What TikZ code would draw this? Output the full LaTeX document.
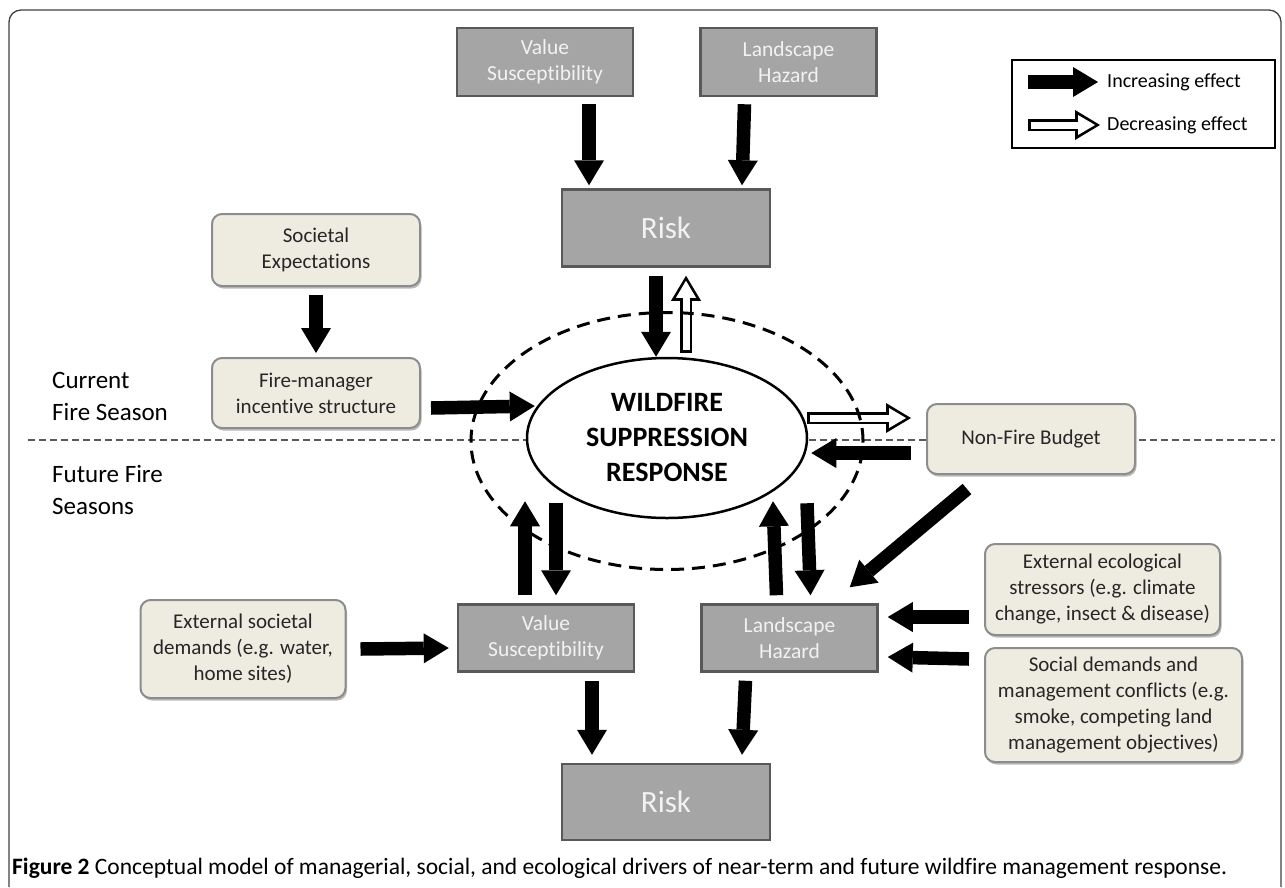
\documentclass[tikz,border=0pt]{standalone}
\usepackage{fontspec}
\setmainfont{Carlito}[Ligatures=NoCommon]
\usetikzlibrary{positioning}
\usetikzlibrary{arrows.meta}
\usetikzlibrary{shapes.geometric}
\usetikzlibrary{shadows}

\definecolor{boxgray}{HTML}{A5A5A5}
\definecolor{boxedge}{HTML}{595959}
\definecolor{tanfill}{HTML}{EEECE1}
\definecolor{tanedge}{HTML}{8C8C8C}
\definecolor{boxtext}{HTML}{262626}

\begin{document}
\begin{tikzpicture}[x=1pt, y=-1pt,
  factor/.style={rectangle, draw=boxedge, line width=2.5pt, fill=boxgray, text=white!95!black, align=center, inner sep=2pt, font=\fontsize{21.5}{26}\selectfont},
  risk/.style={factor, minimum width=208pt, minimum height=77pt, font=\fontsize{31}{36}\selectfont},
  driver/.style={rectangle, rounded corners=10pt, draw=tanedge, line width=2pt, fill=tanfill, text=boxtext, align=center, inner sep=2pt, font=\fontsize{21}{26}\selectfont, drop shadow={shadow xshift=1.5pt, shadow yshift=-2.5pt, fill=black!45, opacity=0.6}},
  response/.style={ellipse, draw, line width=2.5pt, fill=white, minimum width=280pt, minimum height=160pt, inner sep=0pt, align=center, font=\fontsize{28}{35}\selectfont\bfseries},
  zone/.style={ellipse, draw, dashed, dash pattern=on 13pt off 8pt, line width=3pt, minimum width=392pt, minimum height=257pt, inner sep=0pt},
  season/.style={anchor=west, align=left, inner sep=0pt, font=\fontsize{25}{32}\selectfont},
  legendtext/.style={anchor=west, inner sep=0pt, font=\fontsize{20}{24}\selectfont},
  incr/.style={line width=13.5pt, -{Triangle[length=25pt, width=30pt, line width=0pt]}},
  decr/.style={line width=12pt, -{Triangle[length=25pt, width=30pt, line width=0pt]},
    postaction={draw=white, line width=7pt, shorten <=2.5pt, shorten >=5pt, -{Triangle[length=17pt, width=20pt, line width=0pt]}}},
  divider/.style={draw=black!65, line width=1.6pt, dash pattern=on 7pt off 4pt}
]
\useasboundingbox (0,0) rectangle (1285,887);

% Frame and season divider
\draw[black!75, line width=1.3pt, rounded corners=12pt] (9,887) -- (9,10) -- (1281,10) -- (1281,887);
\draw[divider] (28,440) -- (1275,440);

% Top row
\node[factor, minimum width=176pt, minimum height=68pt] (topvs) at (545,62) {Value\\Susceptibility};
\node[factor, minimum width=176pt, minimum height=68pt, right=65pt of topvs] (toplh) {Landscape\\Hazard};
\node[risk] (toprisk) at (666,228) {Risk};

% Legend
\node[draw, line width=2pt, minimum width=263pt, minimum height=88pt] (legend) at (1143.5,104) {};
\node[legendtext] (incrtext) at (1107,82) {Increasing effect};
\node[legendtext] (decrtext) at (1107,125) {Decreasing effect};

% Centre
\node[response] (resp) at (667,438) {WILDFIRE\\SUPPRESSION\\RESPONSE};

% Left side
\node[driver, minimum width=208pt, minimum height=72pt] (societal) at (316,250) {Societal\\Expectations};
\node[driver, minimum width=208pt, minimum height=70pt, below=70pt of societal] (fireman) {Fire-manager\\incentive structure};
\node[season] (current) at (52,396) {Current\\Fire Season};
\node[season] (future) at (52,490) {Future Fire\\Seasons};
\node[driver, minimum width=205pt, minimum height=98pt] (extsoc) at (243,649) {External societal\\demands (e.g. water,\\home sites)};

% Right side
\node[driver, minimum width=208pt, minimum height=70pt] (nonfire) at (1031,439) {Non-Fire Budget};
\node[driver, minimum width=235pt, minimum height=91pt] (ecostress) at (1102.5,589.5) {External ecological\\stressors (e.g. climate\\change, insect \& disease)};
\node[driver, minimum width=257pt, minimum height=114pt, below=11pt of ecostress.south west, anchor=north west] (socdemand) {Social demands and\\management conflicts (e.g.\\smoke, competing land\\management objectives)};

% Bottom row
\node[factor, minimum width=176pt, minimum height=67pt] (botvs) at (546,638) {Value\\Susceptibility};
\node[factor, minimum width=176pt, minimum height=67pt, right=65pt of botvs] (botlh) {Landscape\\Hazard};
\node[risk, minimum height=76pt] (botrisk) at (666,802) {Risk};

% Caption
\node[anchor=west, inner sep=0pt, font=\fontsize{23.5}{26}\selectfont] (caption) at (12,868) {\textbf{Figure 2} Conceptual model of managerial, social, and ecological drivers of near-term and future wildfire management response.};

% Effects
\draw[incr] ([xshift=-79pt]incrtext.west) -- ([xshift=-9pt]incrtext.west);
\draw[decr] ([xshift=-79pt]decrtext.west) -- ([xshift=-7pt]decrtext.west);

\draw[incr] ([xshift=44pt,yshift=-7pt]topvs.south) -- ([xshift=-77pt,yshift=3pt]toprisk.north);
\draw[incr] ([xshift=-44pt,yshift=-7pt]toplh.south) -- ([xshift=76pt,yshift=3pt]toprisk.north);
\draw[incr] ([xshift=-10pt,yshift=-8pt]toprisk.south) -- ([xshift=-11pt]resp.north);
\draw[decr] ([xshift=19pt,yshift=4pt]resp.north) -- ([xshift=20pt,yshift=-8pt]toprisk.south);

\draw[incr] ([yshift=-8pt]societal.south) -- ([yshift=4pt]fireman.north);
\draw[incr] ([xshift=10pt,yshift=-15pt]fireman.east) -- ([xshift=9pt,yshift=32pt]resp.west);

\draw[decr] ([xshift=-1pt,yshift=20pt]resp.east) -- ([xshift=-15pt,yshift=21pt]nonfire.west);
\draw[incr] ([xshift=-15pt,yshift=-14pt]nonfire.west) -- ([xshift=3pt,yshift=-15pt]resp.east);
\draw[incr] ([xshift=41pt,yshift=-14pt]nonfire.south west) -- ([xshift=-29pt,yshift=16pt]botlh.north east);

\draw[incr] ([xshift=-21pt,yshift=8pt]botvs.north) -- ([xshift=-142pt,yshift=18pt]resp.south);
\draw[incr] ([xshift=-111pt,yshift=16pt]resp.south) -- ([xshift=10pt,yshift=8pt]botvs.north);
\draw[incr] ([xshift=-13pt,yshift=8pt]botlh.north) -- ([xshift=106pt,yshift=18pt]resp.south);
\draw[incr] ([xshift=140pt,yshift=16pt]resp.south) -- ([xshift=21pt,yshift=8pt]botlh.north);

\draw[incr] ([xshift=14pt]extsoc.east) -- ([xshift=-8pt,yshift=-10pt]botvs.west);
\draw[incr] ([xshift=-15pt,yshift=-27.5pt]ecostress.west) -- ([xshift=9pt,yshift=21pt]botlh.east);
\draw[incr] ([xshift=-15pt,yshift=46pt]socdemand.west) -- ([xshift=9pt,yshift=-19pt]botlh.east);

\draw[incr] ([xshift=46pt,yshift=-8pt]botvs.south) -- ([xshift=-74pt,yshift=8pt]botrisk.north);
\draw[incr] ([xshift=-44pt,yshift=-8pt]botlh.south) -- ([xshift=76pt,yshift=8pt]botrisk.north);

% Management zone
\node[zone] (zone) at (667,441) {};

\end{tikzpicture}
\end{document}
